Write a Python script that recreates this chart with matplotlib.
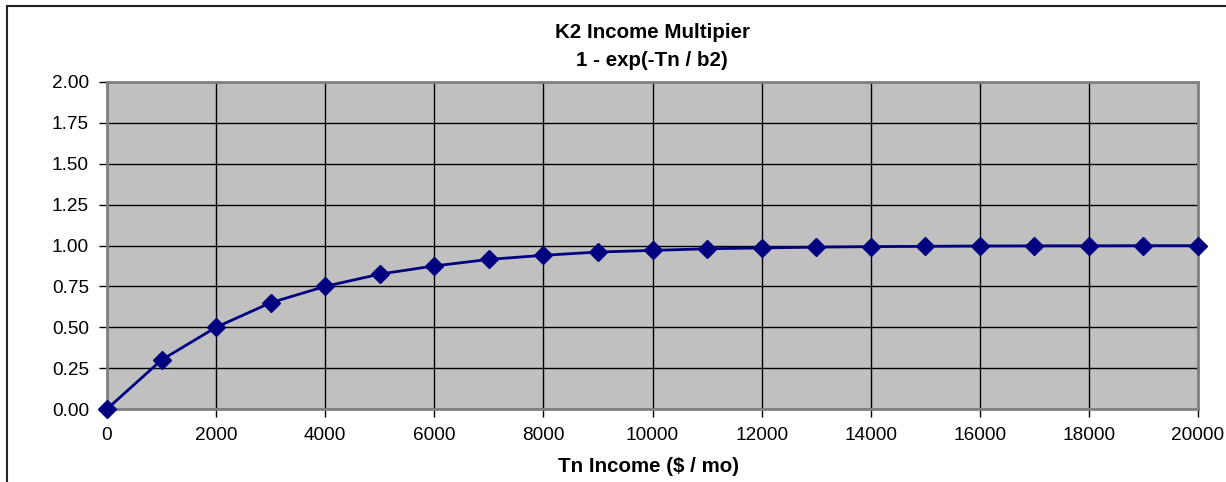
import matplotlib
matplotlib.use("Agg")
import matplotlib.pyplot as plt
from matplotlib.lines import Line2D

income = [0, 1000, 2000, 3000, 4000, 5000, 6000, 7000, 8000, 9000, 10000,
          11000, 12000, 13000, 14000, 15000, 16000, 17000, 18000, 19000, 20000]
multiplier = [0.0, 0.30, 0.50, 0.65, 0.75, 0.825, 0.875, 0.915, 0.94, 0.96, 0.97,
              0.98, 0.985, 0.99, 0.993, 0.995, 0.997, 0.998, 0.998, 0.999, 0.999]
x_ticks = list(range(0, 20001, 2000))
y_ticks = [0.0, 0.25, 0.5, 0.75, 1.0, 1.25, 1.5, 1.75, 2.0]
title_lines = ["K2 Income Multipier", "1 - exp(-Tn / b2)"]
x_label = "Tn Income ($ / mo)"

plt.rcParams['font.family'] = ['Liberation Sans', 'DejaVu Sans']

W, H = 1226, 482
fig = plt.figure(figsize=(W / 100, H / 100), dpi=100)
fig.patch.set_facecolor('white')

ax = fig.add_axes([107 / W, 1 - 409 / H, (1198 - 107) / W, (409 - 82) / H])
ax.set_facecolor('#C0C0C0')
ax.plot(income, multiplier, color='#000080', lw=2, marker='D', ms=9,
        markerfacecolor='#000080', markeredgecolor='#000080', clip_on=False, zorder=5)
ax.set_xlim(0, 20000)
ax.set_ylim(0, 2.0)
ax.set_xticks(x_ticks)
ax.set_xticklabels([str(t) for t in x_ticks])
ax.set_yticks(y_ticks)
ax.set_yticklabels([f"{t:.2f}" for t in y_ticks])
ax.grid(True, color='black', lw=1)
ax.set_axisbelow(True)
for s in ax.spines.values():
    s.set_color('#808080')
    s.set_linewidth(2)
ax.tick_params(axis='both', direction='out', length=6, width=1, color='black',
               labelsize=13.7, pad=7)

fig.text(652 / W, 1 - 33 / H, title_lines[0], ha='center', va='center',
         fontsize=14.8, fontweight='bold')
fig.text(652 / W, 1 - 60 / H, title_lines[1], ha='center', va='center',
         fontsize=14.8, fontweight='bold')
fig.text(649 / W, 1 - 467 / H, x_label, ha='center', va='center',
         fontsize=14.8, fontweight='bold')

fig.add_artist(Line2D([7 / W, 7 / W], [0, 1 - 6 / H], color='#222222', lw=1.5,
                      transform=fig.transFigure))
fig.add_artist(Line2D([7 / W, 1], [1 - 6 / H, 1 - 6 / H], color='#222222', lw=1.5,
                      transform=fig.transFigure))

fig.savefig('out.png', dpi=100)
